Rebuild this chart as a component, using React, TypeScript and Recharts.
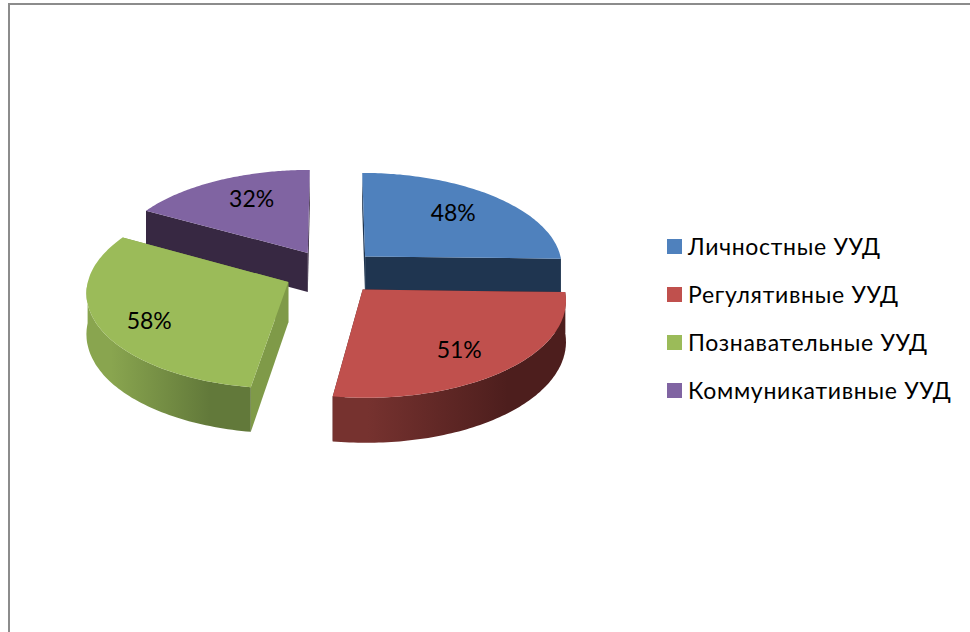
import * as React from 'react'
import { Legend, Pie, PieChart } from 'recharts'

const categories = ['Личностные УУД', 'Регулятивные УУД', 'Познавательные УУД', 'Коммуникативные УУД']
const percents = [48, 51, 58, 32]

const topColors = ['#4f81bd', '#c0504d', '#9bbb59', '#8064a2']
const sideColors = ['#1f3550', '#4f1f1e', '#7f9a48', '#372842']
// left and right colour of the rounded wall
const wallStops = [
	['#1f3550', '#1f3550'],
	['#76322f', '#4d1e1d'],
	['#89a54f', '#62793a'],
	['#372842', '#372842'],
]
// small hand corrections of the percent labels, in px
const labelNudge = [
	[-4, -2],
	[-1, 4],
	[-8, 7],
	[8, -3],
]

const data = categories.map((name, i) => ({ name, value: percents[i], fill: topColors[i] }))

const FONT = 'Lato, Carlito, "Open Sans", sans-serif'
const SQUASH = 0.475
const PERSPECTIVE = 0.095
const EXPLODE = 0.24
const DEPTH = 40
const LABEL_POS = 0.7

// clockwise from 12 o'clock, in radians
const clock = (angle: number) => ((90 - angle) * Math.PI) / 180

const project = (cx: number, cy: number, r: number, x: number, y: number, down = 0) => {
	const s = 1 / (1 + (PERSPECTIVE * y) / r)
	return [cx + x * s, cy - y * s * SQUASH + down * s]
}

const toPath = (points: number[][]) =>
	points.map((p, i) => `${i ? 'L' : 'M'}${p[0].toFixed(1)},${p[1].toFixed(1)}`).join(' ') + ' Z'

const Slice3D = (props: any) => {
	const { cx, cy, outerRadius: r, startAngle, endAngle, midAngle, index } = props
	const mid = clock(midAngle)
	const x0 = Math.sin(mid) * r * EXPLODE
	const y0 = Math.cos(mid) * r * EXPLODE
	const from = clock(startAngle)
	const to = clock(endAngle)

	const at = (a: number, down = 0) =>
		project(cx, cy, r, x0 + Math.sin(a) * r, y0 + Math.cos(a) * r, down)
	const apex = (down = 0) => project(cx, cy, r, x0, y0, down)

	const steps = 90
	const angles = Array.from({ length: steps + 1 }, (_, i) => from + ((to - from) * i) / steps)
	const top = [apex(), ...angles.map((a) => at(a))]

	// the rounded wall only shows on the near half
	const near = angles.filter((a) => a >= Math.PI / 2 && a <= (Math.PI * 3) / 2)
	const wall = near.length
		? [...near.map((a) => at(a)), ...[...near].reverse().map((a) => at(a, DEPTH))]
		: null

	const side = (a: number) => [apex(), at(a), at(a, DEPTH), apex(DEPTH)]
	const gradId = `wall-${index}`

	return (
		<g>
			<defs>
				<linearGradient id={gradId} x1="0" y1="0" x2="1" y2="0">
					<stop offset="0.15" stopColor={wallStops[index][0]} />
					<stop offset="0.75" stopColor={wallStops[index][1]} />
				</linearGradient>
			</defs>
			<path d={toPath(side(from))} fill={sideColors[index]} />
			<path d={toPath(side(to))} fill={sideColors[index]} />
			{wall && <path d={toPath(wall)} fill={`url(#${gradId})`} />}
			<path d={toPath(top)} fill={topColors[index]} />
		</g>
	)
}

const isBack = (midAngle: number) => Math.cos(clock(midAngle)) > 0

const BackSlice = (props: any) => (isBack(props.midAngle) ? <Slice3D {...props} /> : <g />)
const FrontSlice = (props: any) => (isBack(props.midAngle) ? <g /> : <Slice3D {...props} />)

const renderLabel = (props: any) => {
	const { cx, cy, outerRadius: r, midAngle, value, index } = props
	const mid = clock(midAngle)
	const offset = EXPLODE + LABEL_POS
	const [x, y] = project(cx, cy, r, Math.sin(mid) * r * offset, Math.cos(mid) * r * offset)
	return (
		<text
			x={x + labelNudge[index][0]}
			y={y + labelNudge[index][1]}
			textAnchor="middle"
			dominantBaseline="central"
			fontSize={23}
			fontFamily={FONT}
			fill="#000"
		>
			{value}%
		</text>
	)
}

const renderLegend = (props: any) => (
	<div>
		{props.payload
			.filter((item: any) => item.type !== 'none')
			.map((item: any) => (
				<div
					key={item.value}
					style={{
						display: 'flex',
						alignItems: 'center',
						height: 48,
						fontFamily: FONT,
						fontSize: 23,
						letterSpacing: 0.7,
						color: '#000',
						whiteSpace: 'nowrap',
					}}
				>
					<span style={{ width: 15, height: 15, marginRight: 6, background: item.color }} />
					{item.value}
				</div>
			))}
	</div>
)

const pieProps = {
	data,
	dataKey: 'value',
	nameKey: 'name',
	cx: 331.5,
	cy: 272,
	outerRadius: 198.5,
	startAngle: 90,
	endAngle: -270,
	stroke: 'none',
	isAnimationActive: false,
}

export default function App() {
	return (
		<div style={{ position: 'absolute', left: 0, top: 0, width: 970, height: 632, overflow: 'hidden', background: '#fff' }}>
			<div
				style={{
					position: 'absolute',
					left: 8,
					top: 3,
					right: 0,
					bottom: 0,
					borderTop: '2px solid #8c8c8c',
					borderLeft: '2px solid #8c8c8c',
				}}
			/>
			<PieChart width={970} height={632} margin={{ top: 0, right: 0, bottom: 0, left: 0 }} style={{ position: 'absolute', left: 0, top: 0 }}>
				<Pie {...pieProps} shape={BackSlice} />
				<Pie {...pieProps} shape={FrontSlice} legendType="none" label={renderLabel} labelLine={false} />
				<Legend
					content={renderLegend}
					itemSorter={null}
					layout="vertical"
					align="right"
					verticalAlign="middle"
					wrapperStyle={{ left: 667, right: 'auto', top: 222, width: 300 }}
				/>
			</PieChart>
		</div>
	)
}
